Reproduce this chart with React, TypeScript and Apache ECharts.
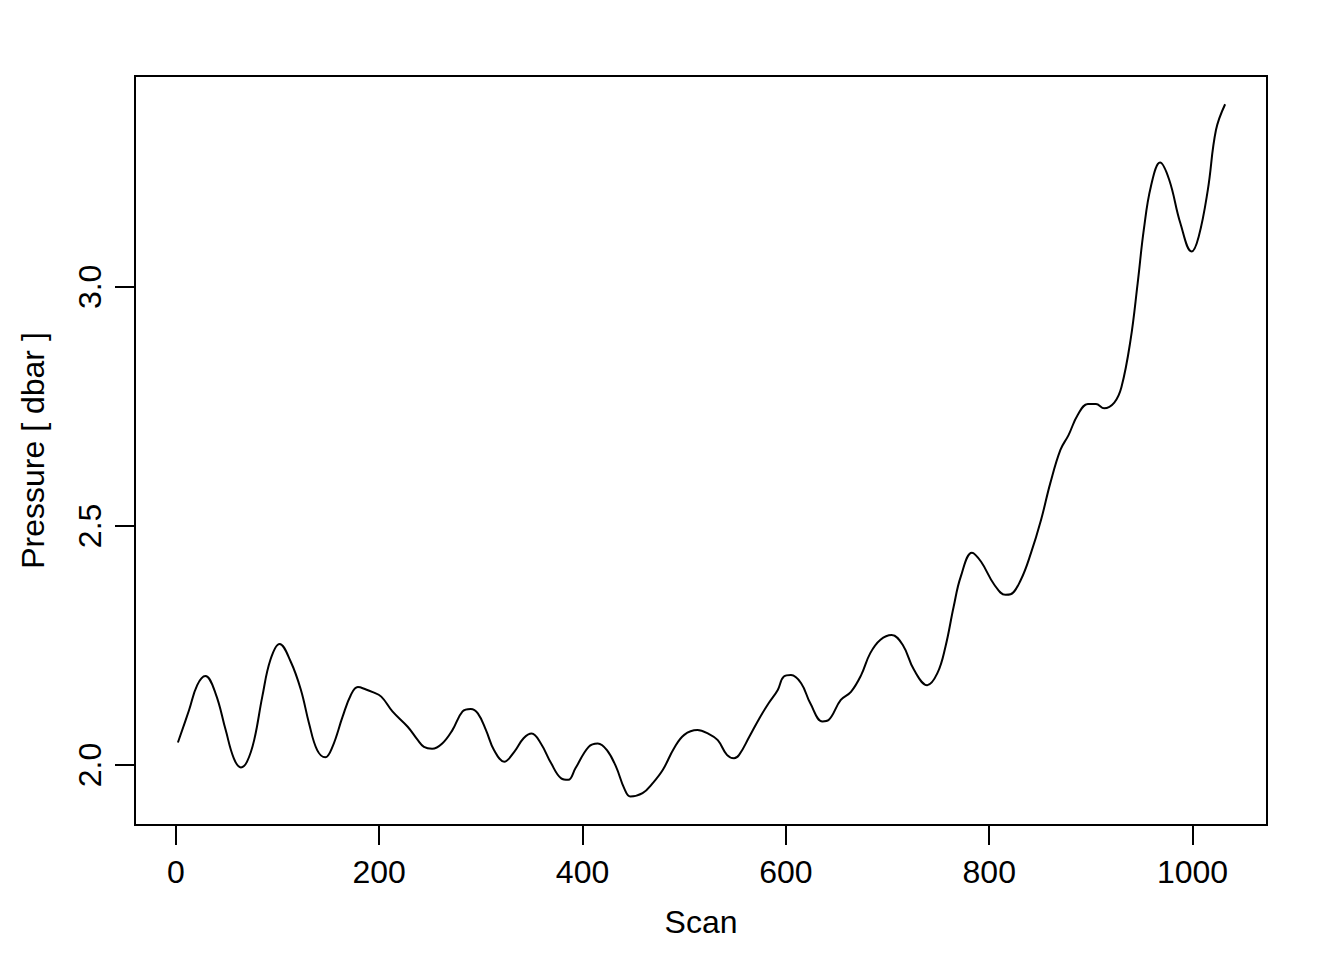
import React, { useEffect, useRef } from "react";
import * as echarts from "echarts";

const scans = [2,13,21,29,39,49,57,64,70,77,85,93,102,113,123,131,139,147,154,164,172,179,187,193,202,213,228,238,244,252,262,272,282,290,297,305,313,323,333,342,350,359,369,379,386,393,406,415,424,433,441,447,459,469,479,490,500,513,524,533,542,549,554,564,574,583,592,598,605,615,624,636,642,654,664,674,683,693,704,715,726,739,749,757,765,772,783,792,805,816,821,831,841,851,860,870,878,887,897,905,913,923,930,939,946,952,959,968,977,988,999,1006,1015,1023,1032];
const pressures = [2.047,2.115,2.167,2.186,2.150,2.073,2.014,1.995,2.007,2.052,2.143,2.220,2.253,2.216,2.157,2.087,2.031,2.016,2.038,2.101,2.146,2.163,2.158,2.153,2.143,2.112,2.080,2.052,2.038,2.034,2.045,2.073,2.112,2.117,2.108,2.073,2.031,2.007,2.028,2.056,2.066,2.045,2.004,1.972,1.969,1.993,2.038,2.045,2.031,1.996,1.951,1.934,1.941,1.962,1.990,2.035,2.063,2.073,2.065,2.052,2.021,2.014,2.021,2.059,2.098,2.129,2.157,2.185,2.188,2.171,2.129,2.091,2.094,2.136,2.153,2.188,2.234,2.262,2.272,2.251,2.199,2.167,2.192,2.248,2.331,2.394,2.444,2.425,2.377,2.356,2.357,2.387,2.443,2.513,2.589,2.659,2.690,2.732,2.755,2.755,2.746,2.758,2.790,2.889,3.008,3.119,3.210,3.260,3.224,3.133,3.074,3.105,3.203,3.328,3.382];

const xTicks = [0, 200, 400, 600, 800, 1000];
const yTicks = [2.0, 2.5, 3.0];
const xMin = -40.2;
const xMax = 1073.2;
const yMin = 1.8745;
const yMax = 3.441;

const FONT = "'Liberation Sans', Arial, Helvetica, sans-serif";
const FS = 32;

export default function App() {
  const ref = useRef<HTMLDivElement>(null);
  useEffect(() => {
    if (!ref.current) return;
    const chart = echarts.init(ref.current, null, { renderer: "svg" });
    const data = scans.map((s, i) => [s, pressures[i]]);
    chart.setOption({
      animation: false,
      backgroundColor: "#ffffff",
      textStyle: { fontFamily: FONT },
      grid: {
        left: 135,
        top: 76,
        right: 77,
        bottom: 135,
        show: true,
        borderColor: "#000",
        borderWidth: 2,
        backgroundColor: "transparent",
        outerBoundsMode: "none",
      },
      xAxis: {
        type: "value",
        min: xMin,
        max: xMax,
        name: "Scan",
        nameLocation: "middle",
        nameGap: 81,
        nameTextStyle: { fontSize: FS, color: "#000", fontFamily: FONT },
        axisLine: { show: false, onZero: false },
        splitLine: { show: false },
        axisTick: {
          show: true,
          length: 20,
          customValues: xTicks,
          lineStyle: { color: "#000", width: 2 },
        },
        axisLabel: {
          customValues: xTicks,
          margin: 31,
          fontSize: FS,
          color: "#000",
          fontFamily: FONT,
          formatter: (v: number) => String(v),
        },
      },
      yAxis: {
        type: "value",
        min: yMin,
        max: yMax,
        name: "Pressure [ dbar ]",
        nameLocation: "middle",
        nameGap: 86,
        nameTextStyle: { fontSize: FS, color: "#000", fontFamily: FONT },
        axisLine: { show: false, onZero: false },
        splitLine: { show: false },
        axisTick: {
          show: true,
          length: 20,
          customValues: yTicks,
          lineStyle: { color: "#000", width: 2 },
        },
        axisLabel: {
          customValues: yTicks,
          rotate: 90,
          margin: 29,
          fontSize: FS,
          color: "#000",
          fontFamily: FONT,
          formatter: (v: number) => v.toFixed(1),
        },
      },
      series: [
        {
          type: "line",
          data,
          showSymbol: false,
          smooth: 0.4,
          lineStyle: { color: "#000", width: 2 },
        },
      ],
    });
    return () => chart.dispose();
  }, []);
  return (
    <div
      ref={ref}
      style={{ position: "absolute", left: 0, top: 0, width: 1344, height: 960, background: "#fff" }}
    />
  );
}
